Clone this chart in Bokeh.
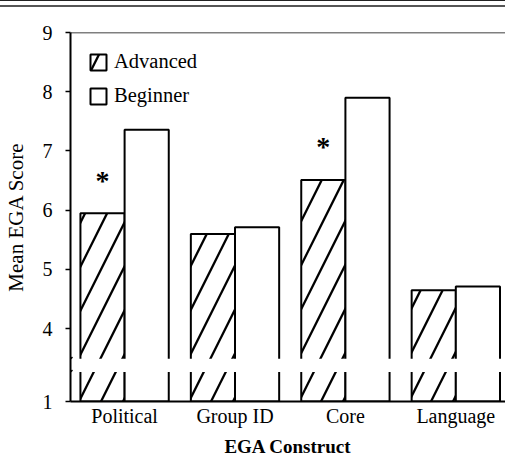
from bokeh.plotting import figure
from bokeh.layouts import column
from bokeh.models import (ColumnDataSource, Range1d, FixedTicker, Span, Legend,
                          LegendItem, Div)
from bokeh.transform import dodge
from bokeh.core.properties import value
from bokeh.embed import file_html
from bokeh.resources import INLINE

# ---- data -------------------------------------------------------------
categories = ["Political", "Group ID", "Core", "Language"]
advanced = [5.95, 5.60, 6.51, 4.65]
beginner = [7.36, 5.71, 7.90, 4.71]
significant = [True, False, True, False]
y_ticks = [4, 5, 6, 7, 8, 9]
series_names = ["Advanced", "Beginner"]

# ---- styling / layout constants ----------------------------------------
SERIF = "Liberation Serif"
Y_MAX = 9
BASE = 2.77          # drawn position of the axis floor (value 1), below the break
BREAK_LO, BREAK_HI = 3.27, 3.49
X_START, X_END = -0.49, 3.45
OFF = 0.2
BAR_W = 0.4

pos = list(range(len(categories)))
src = ColumnDataSource(dict(pos=pos, adv=advanced, beg=beginner))

star_pos = [pos[i] for i in range(len(pos)) if significant[i]]
star_val = [advanced[i] for i in range(len(pos)) if significant[i]]
star_src = ColumnDataSource(dict(pos=star_pos, val=star_val,
                                 txt=["*"] * len(star_pos)))

rules = Div(text="", width=505, height=7, margin=0,
            styles={"border-top": "1px solid #222",
                    "border-bottom": "2px solid #555",
                    "box-sizing": "border-box"})

p = figure(width=505, height=455, output_backend="svg", toolbar_location=None,
           x_range=Range1d(X_START, X_END), y_range=Range1d(BASE, Y_MAX),
           min_border_left=70, min_border_top=25, min_border_right=0,
           min_border_bottom=61, margin=0)
p.outline_line_color = None
p.xgrid.visible = False
p.ygrid.visible = False
p.background_fill_color = "white"
p.border_fill_color = "white"

adv_r = p.vbar(x=dodge("pos", -OFF, range=p.x_range), top="adv", bottom=BASE,
               width=BAR_W, source=src, fill_color="white", line_color="black",
               line_width=2, hatch_pattern="right_diagonal_line",
               hatch_scale=44, hatch_weight=2.3, hatch_color="black")
beg_r = p.vbar(x=dodge("pos", OFF, range=p.x_range), top="beg", bottom=BASE,
               width=BAR_W, source=src, fill_color="white", line_color="black",
               line_width=2)

# axis break: white band across the bars and two small marks on the axis
p.quad(left=[X_START], right=[X_END], bottom=[BREAK_LO], top=[BREAK_HI],
       fill_color="white", line_color=None)
p.segment(x0=[X_START - 0.018] * 2, x1=[X_START + 0.018] * 2,
          y0=[BREAK_LO - 0.03, BREAK_HI - 0.03],
          y1=[BREAK_LO + 0.03, BREAK_HI + 0.03],
          line_color="black", line_width=1.5)

# significance asterisks
p.text(x=dodge("pos", -OFF, range=p.x_range), y="val", text="txt",
       source=star_src, text_font=value(SERIF), text_font_size="28px",
       text_font_style="bold", text_align="center", text_baseline="middle",
       y_offset=-33, text_color="black")

# top rule of the frame
p.add_layout(Span(location=Y_MAX, dimension="width", line_color="black",
                  line_width=1.5))

legend = Legend(items=[LegendItem(label=series_names[0], renderers=[adv_r]),
                       LegendItem(label=series_names[1], renderers=[beg_r])],
                location="top_left", margin=18, padding=0, spacing=11,
                glyph_width=20, glyph_height=20, label_standoff=6,
                label_text_font=SERIF, label_text_font_size="20.5px",
                label_text_color="black", border_line_color=None,
                background_fill_alpha=0)
p.add_layout(legend)

# y axis
p.yaxis.ticker = FixedTicker(ticks=[BASE] + y_ticks)
p.yaxis.major_label_overrides = {BASE: "1"}
p.yaxis.axis_label = "Mean EGA Score"
p.yaxis.axis_label_text_font = SERIF
p.yaxis.axis_label_text_font_size = "21px"
p.yaxis.axis_label_text_font_style = "normal"
p.yaxis.axis_label_text_color = "black"
p.yaxis.axis_label_standoff = 12
p.yaxis.major_label_text_font = SERIF
p.yaxis.major_label_text_font_size = "20px"
p.yaxis.major_label_text_color = "black"
p.yaxis.major_label_standoff = 13
p.yaxis.major_tick_out = 5
p.yaxis.major_tick_in = 0
p.yaxis.minor_tick_line_color = None
p.yaxis.axis_line_width = 2
p.yaxis.axis_line_color = "black"
p.yaxis.major_tick_line_color = "black"
p.yaxis.major_tick_line_width = 1.5

# x axis
p.xaxis.ticker = FixedTicker(ticks=pos)
p.xaxis.major_label_overrides = {i: c for i, c in zip(pos, categories)}
p.xaxis.axis_label = "EGA Construct"
p.xaxis.axis_label_text_font = SERIF
p.xaxis.axis_label_text_font_size = "19px"
p.xaxis.axis_label_text_font_style = "bold"
p.xaxis.axis_label_text_color = "black"
p.xaxis.axis_label_standoff = 6
p.xaxis.major_label_text_font = SERIF
p.xaxis.major_label_text_font_size = "20px"
p.xaxis.major_label_text_color = "black"
p.xaxis.major_label_standoff = 3
p.xaxis.major_tick_out = 0
p.xaxis.major_tick_in = 0
p.xaxis.major_tick_line_color = None
p.xaxis.minor_tick_line_color = None
p.xaxis.axis_line_width = 2
p.xaxis.axis_line_color = "black"

layout = column(rules, p, spacing=0, margin=0)
open("out.html", "w").write(file_html(layout, INLINE))
